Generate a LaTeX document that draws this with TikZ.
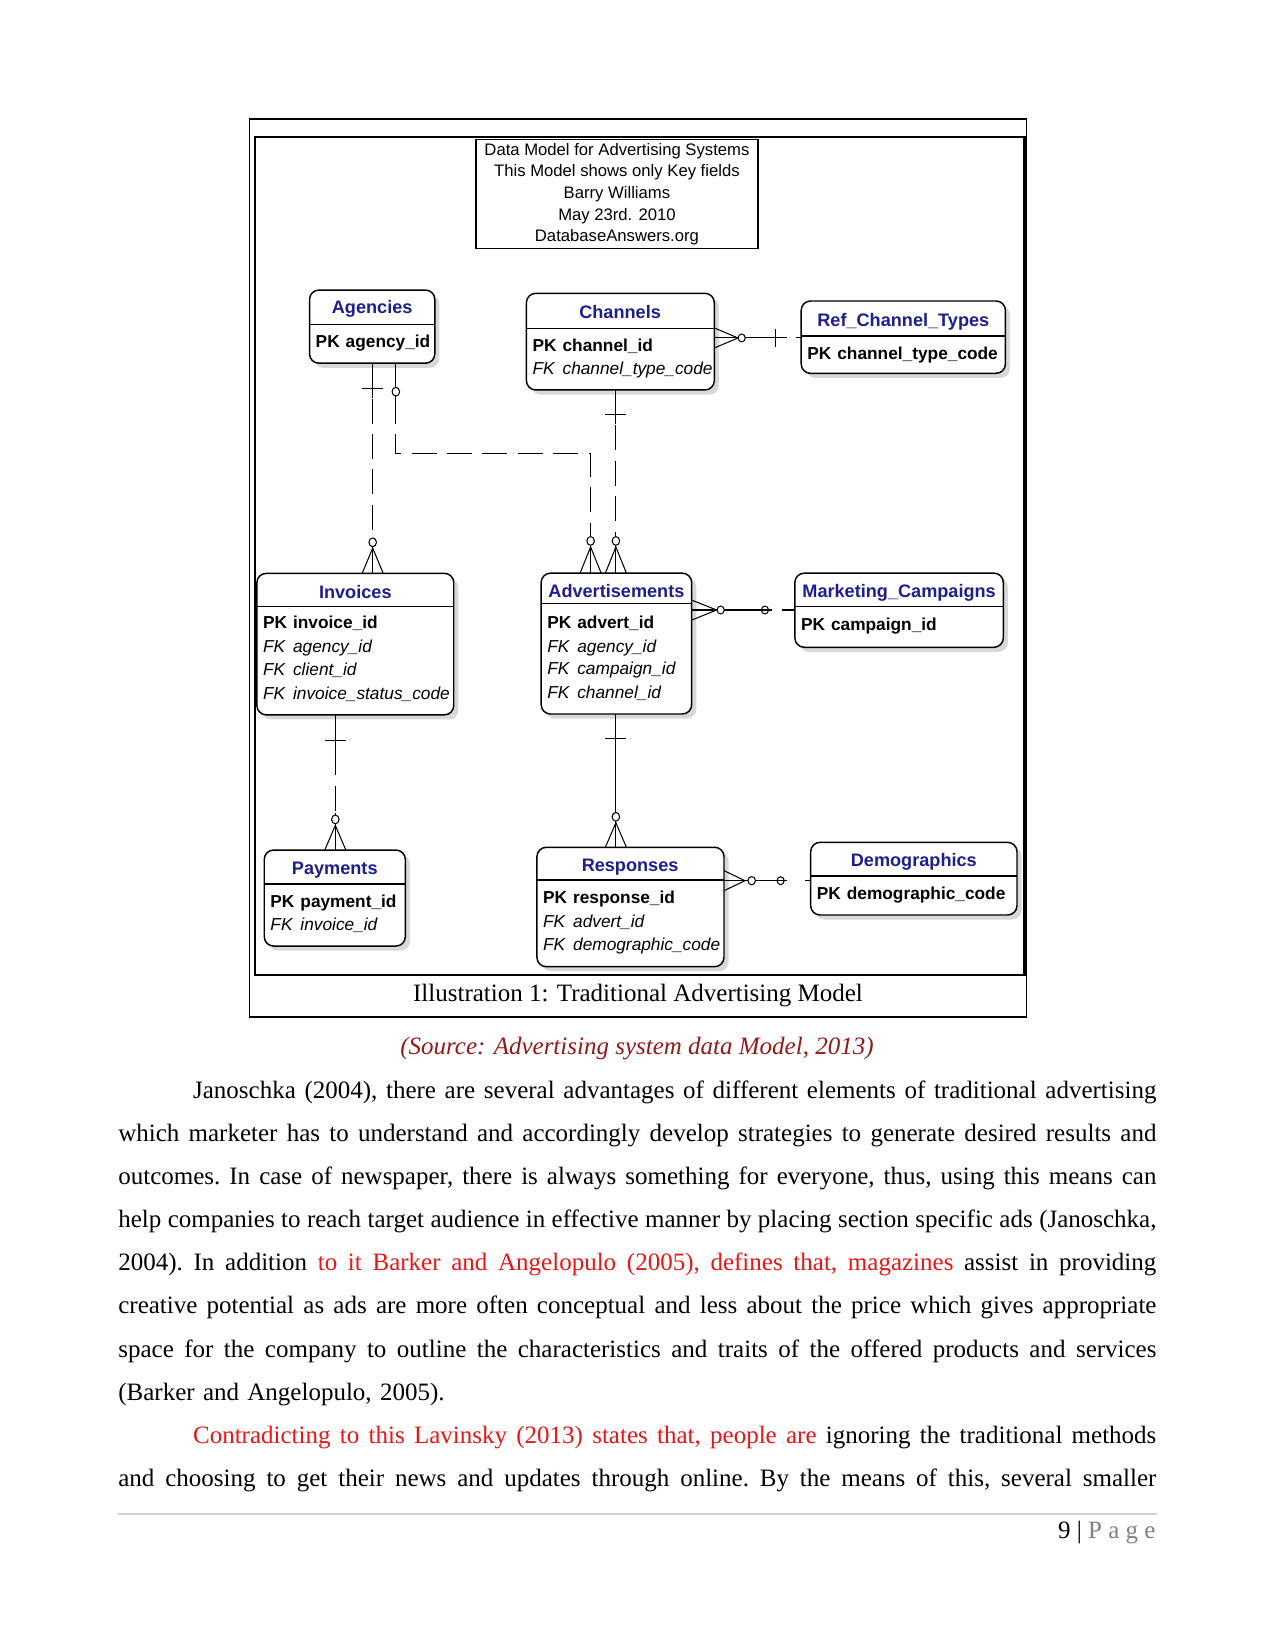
\documentclass[tikz,border=0pt]{standalone}
\usepackage{fontspec}
\setmainfont{Liberation Serif}
\setsansfont{Liberation Sans}
\usetikzlibrary{fit,shadows}
\definecolor{navy}{RGB}{30,30,140}
\definecolor{redtxt}{RGB}{232,22,22}
\definecolor{srcred}{RGB}{150,25,25}
\definecolor{pagegray}{RGB}{128,128,128}
\newcommand\pkrow[1]{\textbf{\makebox[14.4pt][l]{PK}#1}}
\newcommand\fkrow[1]{\textit{\makebox[14.4pt][l]{FK}#1}}
\newcommand\bodyline[1]{\leavevmode{\spaceskip=3pt plus 6pt minus 1.4pt\hbox to 498.3pt{#1}}}
\begin{document}
\begin{tikzpicture}[x=0.50535pt, y=-0.50535pt,
  ebox/.style={draw, line width=0.7pt, rounded corners=4.5pt, fill=white, inner sep=0pt, outer sep=0pt,
    drop shadow={shadow xshift=2.2pt, shadow yshift=-2.2pt, fill=black!30}},
  etitle/.style={anchor=base, inner sep=0pt, text=navy, font=\sffamily\bfseries\fontsize{8.7}{10}\selectfont},
  erow/.style={anchor=base west, inner sep=0pt, font=\sffamily\fontsize{8.3}{10}\selectfont},
  divline/.style={line width=0.6pt},
  conn/.style={line width=0.5pt},
  ndash/.style={conn, dash pattern=on 12pt off 5pt},
  sym/.style={line width=0.5pt},
  hollow/.style={line width=0.5pt, fill=white},
  vring/.style={x radius=1.8pt, y radius=2.1pt},
  hring/.style={x radius=1.7pt, y radius=1.9pt}]

\fill[white] (0,0) rectangle (1211,1568.2);
\useasboundingbox (0,0) rectangle (1211,1568.2);

% frames
\draw[line width=0.65pt] (237,113) rectangle (975,966);
\draw[line width=1.1pt] (242,130) rectangle (973,926);

% title box
\node[draw, line width=0.6pt, minimum width=135.4pt, minimum height=52.3pt, inner sep=0pt,
  align=center, font=\sffamily\fontsize{8}{10.4}\selectfont] (title) at (586,184.6)
  {Data Model for Advertising Systems\\This Model shows only Key fields\\Barry Williams\\May 23rd. 2010\\DatabaseAnswers.org};

% ---------- entities ----------
% Agencies
\node[ebox, fit={(294,275.5) (413,345)}] (agencies) {};
\node[etitle] (agencies-t) at (353.5,298.2) {Agencies};
\draw[divline] (294,308) -- (413,308);
\node[erow] (agencies-r1) at (299.5,330.4) {\pkrow{agency\_id}};

% Channels
\node[ebox, fit={(500,278.6) (678.5,370.4)}] (channels) {};
\node[etitle] (channels-t) at (589,302.5) {Channels};
\draw[divline] (500,311.9) -- (678.5,311.9);
\node[erow] (channels-r1) at (505.5,333.6) {\pkrow{channel\_id}};
\node[erow] (channels-r2) at (505.5,355.8) {\fkrow{channel\_type\_code}};

% Ref_Channel_Types
\node[ebox, fit={(761,285.9) (955,354.6)}] (ref) {};
\node[etitle] (ref-t) at (858,309.8) {Ref\_Channel\_Types};
\draw[divline] (761,319.2) -- (955,319.2);
\node[erow] (ref-r1) at (766.5,341.5) {\pkrow{channel\_type\_code}};

% Invoices
\node[ebox, fit={(244,544.6) (431,679)}] (invoices) {};
\node[etitle] (invoices-t) at (337.5,568.5) {Invoices};
\draw[divline] (244,576.3) -- (431,576.3);
\node[erow] (invoices-r1) at (249.5,597.4) {\pkrow{invoice\_id}};
\node[erow] (invoices-r2) at (249.5,620.2) {\fkrow{agency\_id}};
\node[erow] (invoices-r3) at (249.5,641.7) {\fkrow{client\_id}};
\node[erow] (invoices-r4) at (249.5,664.4) {\fkrow{invoice\_status\_code}};

% Advertisements
\node[ebox, fit={(514,544.4) (657,678.2)}] (ads) {};
\node[etitle] (ads-t) at (585.5,567.2) {Advertisements};
\draw[divline] (514,573) -- (657,573);
\node[erow] (ads-r1) at (519.5,597.4) {\pkrow{advert\_id}};
\node[erow] (ads-r2) at (519.5,619.6) {\fkrow{agency\_id}};
\node[erow] (ads-r3) at (519.5,640.8) {\fkrow{campaign\_id}};
\node[erow] (ads-r4) at (519.5,663) {\fkrow{channel\_id}};

% Marketing_Campaigns
\node[ebox, fit={(755,544.4) (953,614.8)}] (marketing) {};
\node[etitle] (marketing-t) at (854,567.5) {Marketing\_Campaigns};
\draw[divline] (755,576.3) -- (953,576.3);
\node[erow] (marketing-r1) at (760.5,598.6) {\pkrow{campaign\_id}};

% Payments
\node[ebox, fit={(251,807.4) (385,898.6)}] (payments) {};
\node[etitle] (payments-t) at (318,830.3) {Payments};
\draw[divline] (251,839.7) -- (385,839.7);
\node[erow] (payments-r1) at (256.5,862.4) {\pkrow{payment\_id}};
\node[erow] (payments-r2) at (256.5,883.9) {\fkrow{invoice\_id}};

% Responses
\node[ebox, fit={(510,804.8) (687.7,918.2)}] (responses) {};
\node[etitle] (responses-t) at (598.5,827.5) {Responses};
\draw[divline] (510,835.9) -- (687.7,835.9);
\node[erow] (responses-r1) at (515.5,858.2) {\pkrow{response\_id}};
\node[erow] (responses-r2) at (515.5,881.4) {\fkrow{advert\_id}};
\node[erow] (responses-r3) at (515.5,902.6) {\fkrow{demographic\_code}};

% Demographics
\node[ebox, fit={(770,800.1) (966,869.1)}] (demographics) {};
\node[etitle] (demographics-t) at (868,822.7) {Demographics};
\draw[divline] (770,832.1) -- (966,832.1);
\node[erow] (demographics-r1) at (775.5,854.4) {\pkrow{demographic\_code}};

% ---------- connectors ----------
% Agencies -> Invoices
\draw[ndash] (354,0 |- agencies.south) -- (354,0 |- invoices.north);
\draw[conn] (354,345) -- (354,378);
\draw[conn] (354,512) -- (354,544.6);
\draw[sym] (344,368.6) -- (364,368.6);
\draw[sym] (344,544.6) -- (354,520.6) -- (364,544.6);
\draw[hollow] (354,515.1) circle[vring];

% Agencies -> Advertisements
\draw[ndash] (376,0 |- agencies.south) -- (376,431) -- (561,431) -- (561,0 |- ads.north);
\draw[conn] (376,345) -- (376,380);
\draw[conn] (561,508) -- (561,544.4);
\draw[hollow] (376,372) circle[vring];
\draw[sym] (551,544.4) -- (561,519.5) -- (571,544.4);
\draw[hollow] (561,513.8) circle[vring];

% Channels -> Advertisements
\draw[ndash] (585,0 |- channels.south) -- (585,0 |- ads.north);
\draw[conn] (585,370.4) -- (585,403);
\draw[conn] (585,508) -- (585,544.4);
\draw[sym] (575,393.5) -- (595,393.5);
\draw[sym] (575,544.4) -- (585,519.5) -- (595,544.4);
\draw[hollow] (585,513.8) circle[vring];

% Invoices -> Payments
\draw[ndash] (318.5,0 |- invoices.south) -- (318.5,0 |- payments.north);
\draw[conn] (318.5,679) -- (318.5,712);
\draw[conn] (318.5,772) -- (318.5,807.4);
\draw[sym] (308.5,703) -- (328.5,703);
\draw[sym] (308.5,807.4) -- (318.5,784) -- (328.5,807.4);
\draw[hollow] (318.5,778.3) circle[vring];

% Advertisements -> Responses
\draw[conn] (585,0 |- ads.south) -- (585,0 |- responses.north);
\draw[sym] (575,701) -- (595,701);
\draw[sym] (575,804.8) -- (585,781.5) -- (595,804.8);
\draw[hollow] (585,775.8) circle[vring];

% Channels -> Ref_Channel_Types
\draw[conn, dash pattern=on 34.9pt off 4.5pt on 20pt off 0pt] (channels.east |- 0,321) -- (ref.west |- 0,321);
\draw[sym] (678.5,311.5) -- (701,321) -- (678.5,330.5);
\draw[hollow] (704.5,321) circle[hring];
\draw[sym] (737,312.7) -- (737,329.3);

% Advertisements -> Marketing_Campaigns
\draw[conn, dash pattern=on 38.4pt off 4.8pt on 20pt off 0pt] (ads.east |- 0,579.4) -- (marketing.west |- 0,579.4);
\draw[sym] (657,570) -- (680.7,579.4) -- (657,589);
\draw[hollow] (684.5,579.4) circle[hring];
\draw[sym] (726.6,579.4) circle[hring];

% Responses -> Demographics
\draw[conn, dash pattern=on 30pt off 9.1pt on 20pt off 0pt] (responses.east |- 0,836.5) -- (demographics.west |- 0,836.5);
\draw[sym] (687.7,827) -- (707.6,836.5) -- (687.7,846);
\draw[hollow] (714,836.5) circle[x radius=1.8pt, y radius=2pt];
\draw[sym] (741.5,836.5) circle[hring];

% ---------- page text ----------
\node[anchor=base, inner sep=0pt, font=\fontsize{12}{14}\selectfont] (caption) at (606,951)
  {Illustration 1: Traditional Advertising Model};
\node[anchor=base, inner sep=0pt, text=srcred, font=\itshape\fontsize{12}{14}\selectfont] (source) at (605,1002)
  {(Source: Advertising system data Model, 2013)};

\node[anchor=base west, inner sep=0pt, text width=498.3pt, align=left,
  font=\fontsize{12}{20.72}\selectfont\frenchspacing] (body) at (112,1043) {%
\bodyline{\hspace{35.9pt}Janoschka (2004), there are several advantages of different elements of traditional advertising}\\
\bodyline{which marketer has to understand and accordingly develop strategies to generate desired results and}\\
\bodyline{outcomes. In case of newspaper, there is always something for everyone, thus, using this means can}\\
\bodyline{help companies to reach target audience in effective manner by placing section specific ads (Janoschka,}\\
\bodyline{2004). In addition \textcolor{redtxt}{to it Barker and Angelopulo (2005), defines that, magazines} assist in providing}\\
\bodyline{creative potential as ads are more often conceptual and less about the price which gives appropriate}\\
\bodyline{space for the company to outline the characteristics and traits of the offered products and services}\\
(Barker and Angelopulo, 2005).\\
\bodyline{\hspace{35.9pt}\textcolor{redtxt}{Contradicting to this Lavinsky (2013) states that, people are} ignoring the traditional methods}\\
\bodyline{and choosing to get their news and updates through online. By the means of this, several smaller}};

\draw[line width=0.6pt, black!18] (112,1438) -- (1099,1438);
\node[anchor=base east, inner sep=0pt, font=\fontsize{12}{14}\selectfont] (footer) at (1098,1461)
  {9 | \textcolor{pagegray}{P a g e}};
\end{tikzpicture}
\end{document}
